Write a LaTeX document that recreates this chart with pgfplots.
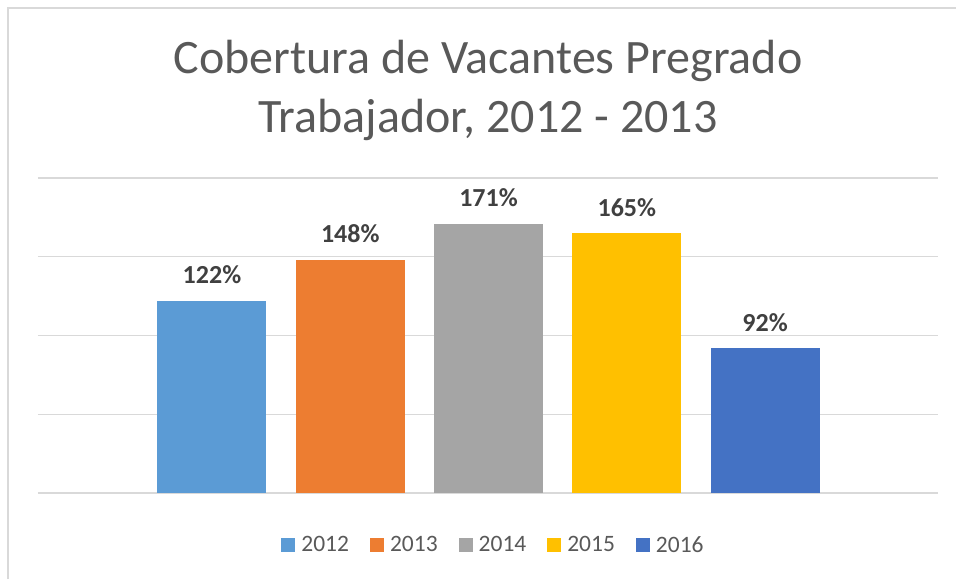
\documentclass[border=0pt]{standalone}
\usepackage{pgfplots}
\pgfplotsset{compat=1.18}
\usepackage{fontspec}
\setmainfont{Carlito}
\definecolor{c1}{HTML}{5B9BD5}
\definecolor{c2}{HTML}{ED7D31}
\definecolor{c3}{HTML}{A5A5A5}
\definecolor{c4}{HTML}{FFC000}
\definecolor{c5}{HTML}{4472C4}
\definecolor{titlegray}{HTML}{595959}
\definecolor{labelgray}{HTML}{404040}
\definecolor{gridgray}{HTML}{D9D9D9}
\begin{document}
\begin{tikzpicture}[x=1pt,y=1pt]
\path[use as bounding box] (0,0) rectangle (956,579);
\draw[color=gridgray, line width=1.5pt] (8,0) -- (8,571) -- (956,571);
\node[anchor=base, text=titlegray, inner sep=0pt, font=\fontsize{48}{56}\selectfont] at (488,505) {Cobertura de Vacantes Pregrado};
\node[anchor=base, text=titlegray, inner sep=0pt, font=\fontsize{48}{56}\selectfont] at (488,446) {Trabajador, 2012 - 2013};
\begin{axis}[
  at={(38pt,86pt)}, anchor=south west,
  scale only axis, width=900pt, height=315pt,
  xmin=-1.258, xmax=5.25, ymin=0, ymax=200,
  ybar, bar width=109pt, bar shift=0pt,
  axis line style={draw=none},
  xtick=\empty, ytick={0,50,100,150,200}, yticklabels={},
  major tick length=0pt,
  ymajorgrids, grid style={color=gridgray, line width=1.5pt},
  clip=false,
  /pgf/number format/assume math mode=true,
  nodes near coords={\pgfmathprintnumber{\pgfplotspointmeta}\%},
  every node near coord/.style={anchor=base, inner sep=0pt, yshift=17pt, text=labelgray, font=\bfseries\fontsize{26}{30}\selectfont},
  legend style={at={(0.505,-0.165)}, anchor=center, draw=none, fill=none, legend columns=5,
    font=\fontsize{23.5}{28}\selectfont, text=titlegray,
    nodes={inner sep=0pt},
    /tikz/every odd column/.append style={column sep=6pt},
    /tikz/every even column/.append style={column sep=21pt}},
  legend image code/.code={\fill[#1] (0pt,-7pt) rectangle (14pt,7pt);},
]
\addplot[fill=c1, draw=none] coordinates {(0,122)};
\addplot[fill=c2, draw=none] coordinates {(1,148)};
\addplot[fill=c3, draw=none] coordinates {(2,171)};
\addplot[fill=c4, draw=none] coordinates {(3,165)};
\addplot[fill=c5, draw=none] coordinates {(4,92)};
\legend{2012,2013,2014,2015,2016}
\end{axis}
\end{tikzpicture}
\end{document}
